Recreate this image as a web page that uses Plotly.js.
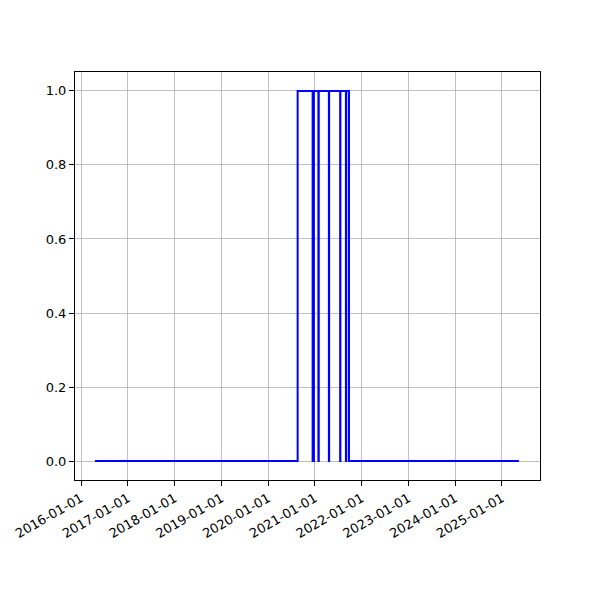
<!DOCTYPE html>
<html>
<head>
<meta charset="utf-8">
<script src="https://cdn.plot.ly/plotly-3.0.1.min.js"></script>
<style>html,body{margin:0;padding:0;background:#fff;}#chart{width:600px;height:600px;}</style>
</head>
<body>
<div id="chart"></div>
<script>
// Step series: value holds from each date until the next one
var dates = [
  '2016-04-19', '2020-08-19',
  '2020-12-14', '2020-12-24',
  '2021-01-28', '2021-01-31',
  '2021-04-20', '2021-04-22',
  '2021-07-17', '2021-07-19',
  '2021-08-31', '2021-09-03',
  '2021-09-24', '2025-05-14'
];
var values = [0, 1, 0, 1, 0, 1, 0, 1, 0, 1, 0, 1, 0, 0];

var yTicks = [0, 0.2, 0.4, 0.6, 0.8, 1.0];
var yTickText = ['0.0', '0.2', '0.4', '0.6', '0.8', '1.0'];
var xTicks = ['2016-01-01','2017-01-01','2018-01-01','2019-01-01','2020-01-01',
              '2021-01-01','2022-01-01','2023-01-01','2024-01-01','2025-01-01'];

var trace = {
  x: dates, y: values, type: 'scatter', mode: 'lines',
  line: {color: '#0000ff', width: 2, shape: 'hv'},
  hoverinfo: 'skip'
};

var axisCommon = {
  showline: true, mirror: true, linecolor: '#000', linewidth: 1,
  showgrid: true, gridcolor: '#b0b0b0', gridwidth: 0.8,
  zeroline: false, ticks: 'outside', ticklen: 5, tickwidth: 1, tickcolor: '#000',
  tickfont: {family: 'DejaVu Sans', size: 13, color: '#000'}
};

var layout = {
  width: 600, height: 600,
  margin: {l: 75, r: 60, t: 72, b: 120},
  paper_bgcolor: '#fff', plot_bgcolor: '#fff',
  showlegend: false,
  xaxis: Object.assign({}, axisCommon, {
    type: 'date',
    range: ['2015-11-15', '2025-10-25'],
    tickvals: xTicks, ticktext: xTicks,
    tickangle: -30
  }),
  yaxis: Object.assign({}, axisCommon, {
    range: [-0.051, 1.051],
    tickvals: yTicks, ticktext: yTickText
  })
};

Plotly.newPlot('chart', [trace], layout, {displayModeBar: false, staticPlot: true});
</script>
</body>
</html>
